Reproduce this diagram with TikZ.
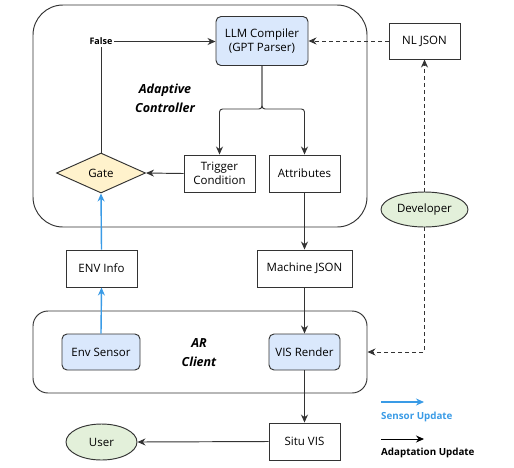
\documentclass[tikz,border=0pt]{standalone}
\usepackage{fontspec}
\setmainfont{Open Sans}
\usetikzlibrary{shapes.geometric,arrows.meta}
\definecolor{lblue}{HTML}{DAE8FC}
\definecolor{lyellow}{HTML}{FFF2CC}
\definecolor{lgreen}{HTML}{E3F0DA}
\definecolor{sblue}{HTML}{3A9BE6}
\definecolor{lineg}{HTML}{333333}
\tikzset{
  box/.style={draw=lineg, line width=0.95pt, fill=white, inner sep=0pt, font=\fontsize{11.5}{14}\selectfont, align=center},
  bluebox/.style={box, fill=lblue, rounded corners=5pt},
  ell/.style={draw=lineg, line width=0.95pt, fill=lgreen, ellipse, inner sep=0pt, font=\fontsize{11.5}{14}\selectfont},
  gatebox/.style={draw=lineg, line width=0.95pt, fill=lyellow, diamond, aspect=2.2, inner sep=0pt, font=\fontsize{11.5}{14}\selectfont},
  container/.style={draw=lineg, line width=0.95pt, inner sep=0pt},
  conn/.style={draw=lineg, line width=0.95pt, -{Stealth[length=8pt,width=7pt]}},
  sconn/.style={draw=sblue, line width=1.4pt, -{Stealth[length=8pt,width=7pt]}},
  dconn/.style={conn, dash pattern=on 4pt off 3pt},
  title/.style={font=\fontsize{12.5}{19}\selectfont\bfseries\itshape, align=center},
  legendtxt/.style={font=\fontsize{9.8}{12}\selectfont\bfseries, anchor=west, inner sep=0pt}
}
\begin{document}
\begin{tikzpicture}[x=1pt,y=-1pt]
\useasboundingbox (0,0) rectangle (514,467);
% containers
\node[container, rounded corners=30pt, minimum width=334pt, minimum height=222pt] (ac) at (200,116) {};
\node[container, rounded corners=15pt, minimum width=334pt, minimum height=82pt] (arc) at (200,352) {};
\node[title] (actitle) at (165,98) {Adaptive\\Controller};
\node[title] (arctitle) at (199,352.5) {AR\\Client};
% nodes
\node[bluebox, minimum width=92pt, minimum height=49pt] (llm) at (262,41) {LLM Compiler\\(GPT Parser)};
\node[box, minimum width=71pt, minimum height=36pt] (nl) at (424.5,41) {NL JSON};
\node[gatebox, minimum width=89pt, minimum height=40pt] (gate) at (101,173) {Gate};
\node[box, minimum width=71pt, minimum height=37pt] (trig) at (219.5,173.5) {Trigger\\Condition};
\node[box, minimum width=71pt, minimum height=37pt] (attr) at (304.5,173.5) {Attributes};
\node[ell, minimum width=87pt, minimum height=35pt] (dev) at (424.5,209.5) {Developer};
\node[box, minimum width=71pt, minimum height=37pt] (env) at (101.5,268.5) {ENV Info};
\node[box, minimum width=95pt, minimum height=37pt] (mj) at (304.5,268.5) {Machine JSON};
\node[bluebox, minimum width=78pt, minimum height=36pt] (sensor) at (101,352) {Env Sensor};
\node[bluebox, minimum width=71pt, minimum height=36pt] (vis) at (304.5,352) {VIS Render};
\node[box, minimum width=71pt, minimum height=37pt] (situ) at (304.5,441.5) {Situ VIS};
\node[ell, minimum width=71pt, minimum height=36pt] (user) at (101.5,442) {User};
\node[font=\fontsize{9}{10}\selectfont\bfseries, inner sep=1.5pt] (false) at (101,41.5) {False};
\coordinate (split) at (262,109);
% connectors
\draw[draw=lineg, line width=0.95pt] (gate.north) -- (false.south);
\draw[conn] (false.east) -- (llm.west |- false.east);
\draw[conn] (trig.west) -- (gate.east);
\draw[conn, rounded corners=3pt] (llm.south) -- (split) -| (trig.north);
\draw[conn, rounded corners=3pt] (llm.south) -- (split) -| (attr.north);
\draw[conn] (attr.south) -- (mj.north);
\draw[conn] (mj.south) -- (vis.north);
\draw[conn] (vis.south) -- (situ.north);
\draw[conn] (situ.west) -- (user.east);
\draw[sconn] (sensor.north) -- (env.south);
\draw[sconn] (env.north) -- (gate.south);
\draw[dconn] (dev.north) -- (nl.south);
\draw[dconn] (nl.west) -- (llm.east);
\draw[dconn] (dev.south) |- (arc.east);
% legend
\coordinate (l1a) at (381,402);
\coordinate (l1b) at (424,402);
\coordinate (l2a) at (381,439);
\coordinate (l2b) at (424,439);
\draw[sconn] (l1a) -- (l1b);
\draw[conn, draw=black] (l2a) -- (l2b);
\node[legendtxt, text=sblue] (lt1) at (381,417) {Sensor Update};
\node[legendtxt] (lt2) at (381,453) {Adaptation Update};
\end{tikzpicture}
\end{document}
